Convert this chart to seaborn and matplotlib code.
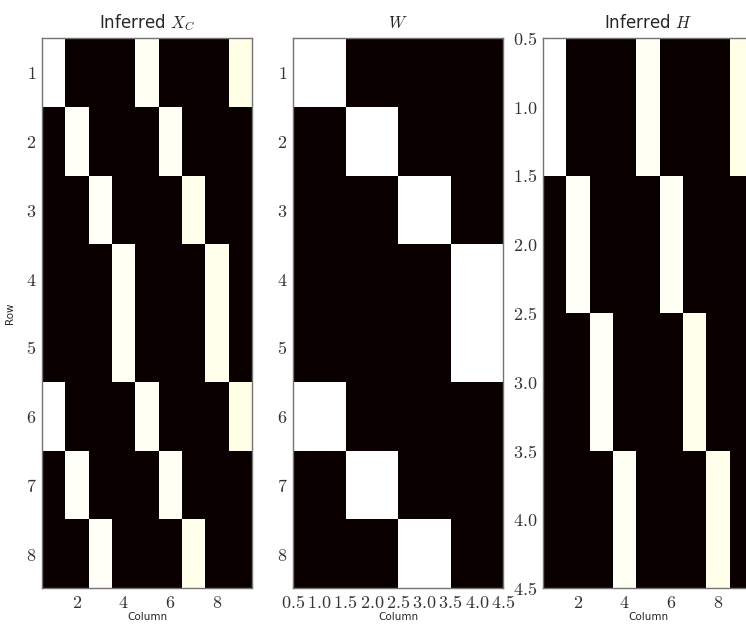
import numpy as np
import matplotlib
matplotlib.use('Agg')
import matplotlib.pyplot as plt
import seaborn as sns

# data (1-based row / column numbers in the ticks)
xc_vals = [
    [1.00, 0, 0, 0, 0.985, 0, 0, 0, 0.975],
    [0, 0.99, 0, 0, 0, 0.985, 0, 0, 0],
    [0, 0, 0.99, 0, 0, 0, 0.98, 0, 0],
    [0, 0, 0, 0.985, 0, 0, 0, 0.98, 0],
    [0, 0, 0, 0.985, 0, 0, 0, 0.98, 0],
    [1.00, 0, 0, 0, 0.985, 0, 0, 0, 0.975],
    [0, 0.99, 0, 0, 0, 0.985, 0, 0, 0],
    [0, 0, 0.99, 0, 0, 0, 0.98, 0, 0],
]
w_vals = [
    [1, 0, 0, 0],
    [0, 1, 0, 0],
    [0, 0, 1, 0],
    [0, 0, 0, 1],
    [0, 0, 0, 1],
    [1, 0, 0, 0],
    [0, 1, 0, 0],
    [0, 0, 1, 0],
]
h_vals = [
    [1.00, 0, 0, 0, 0.985, 0, 0, 0, 0.975],
    [0, 0.99, 0, 0, 0, 0.985, 0, 0, 0],
    [0, 0, 0.99, 0, 0, 0, 0.98, 0, 0],
    [0, 0, 0, 0.985, 0, 0, 0, 0.98, 0],
]

titles = [r'Inferred $X_C$', r'$W$', r'Inferred $H$']
xc_xticks = [2, 4, 6, 8]
xc_yticks = [1, 2, 3, 4, 5, 6, 7, 8]
w_xticks = [0.5, 1.0, 1.5, 2.0, 2.5, 3.0, 3.5, 4.0, 4.5]
w_yticks = [1, 2, 3, 4, 5, 6, 7, 8]
h_xticks = [2, 4, 6, 8]
h_yticks = [0.5, 1.0, 1.5, 2.0, 2.5, 3.0, 3.5, 4.0, 4.5]

sns.set_style('ticks')
plt.rcParams['mathtext.fontset'] = 'cm'
plt.rcParams['font.family'] = ['DejaVu Sans']

fig = plt.figure(figsize=(7.46, 6.24), dpi=100)
lefts = [42 / 746, 293 / 746, 543 / 746]
bottom = 36 / 624
width = 210 / 746
height = 550 / 624

panels = [
    (np.array(xc_vals), xc_xticks, xc_yticks, '{:g}', '{:g}'),
    (np.array(w_vals, dtype=float), w_xticks, w_yticks, '{:.1f}', '{:g}'),
    (np.array(h_vals), h_xticks, h_yticks, '{:g}', '{:.1f}'),
]

for i, (mat, xt, yt, xfmt, yfmt) in enumerate(panels):
    ax = fig.add_axes([lefts[i], bottom, width, height])
    sns.heatmap(mat, cmap='hot', vmin=0, vmax=mat.max(), cbar=False,
                xticklabels=False, yticklabels=False, ax=ax)
    for s in ax.spines.values():
        s.set_visible(True)
        s.set_color('0.45')
        s.set_linewidth(1.0)
    # cells sit at 0..n in heatmap coords, the picture uses 0.5..n+0.5
    ax.set_xticks([v - 0.5 for v in xt])
    ax.set_xticklabels(['$' + xfmt.format(v) + '$' for v in xt], rotation=0, fontsize=13)
    ax.set_yticks([v - 0.5 for v in yt])
    ax.set_yticklabels(['$' + yfmt.format(v) + '$' for v in yt], rotation=0, fontsize=13)
    ax.tick_params(direction='in', length=4, width=0.8, color='0.45',
                   top=True, right=True, labelcolor='#333333', pad=4)
    ax.set_xlim(0, mat.shape[1])
    ax.set_ylim(mat.shape[0], 0)
    ax.set_title(titles[i], fontsize=12, pad=7)
    ax.set_xlabel('Column', fontsize=7.5, labelpad=0)
    if i == 0:
        ax.set_ylabel('Row', fontsize=7.5, labelpad=8)

fig.savefig('out.png', dpi=100)
